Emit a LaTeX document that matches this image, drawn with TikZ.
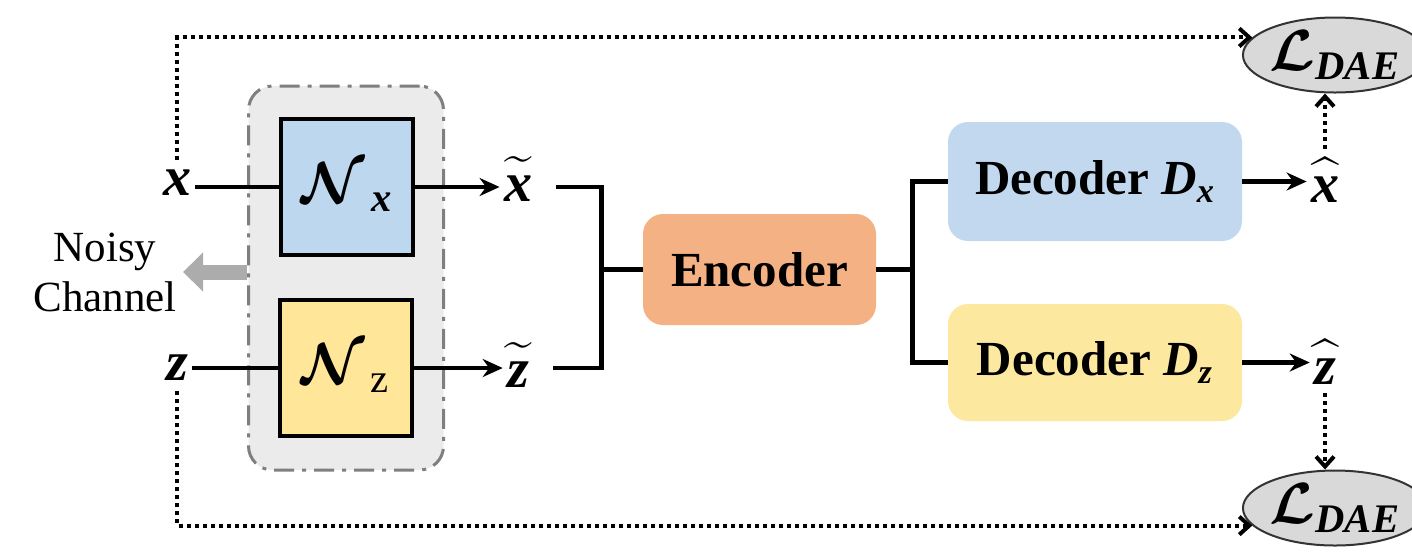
\RequirePackage{fix-cm}
\documentclass[tikz,border=0pt]{standalone}
\usepackage{amsmath}
\usepackage{bm}
\usepackage{fontspec}
\setmainfont{Liberation Serif}
\usetikzlibrary{arrows.meta,shapes.geometric}
\definecolor{nxblue}{HTML}{BDD7EE}
\definecolor{dxblue}{HTML}{C2D8EE}
\definecolor{nzyellow}{HTML}{FFE699}
\definecolor{dzyellow}{HTML}{FDE8A0}
\definecolor{encorange}{HTML}{F4B183}
\definecolor{ncgray}{HTML}{EBEBEB}
\definecolor{ncborder}{HTML}{7F7F7F}
\definecolor{lossfill}{HTML}{D9D9D9}
\newcommand{\bix}{\text{\bfseries\itshape x}}
\newcommand{\biz}{\text{\bfseries\itshape z}}
\newcommand{\acctall}{\rule{0pt}{0.55em}}
\begin{document}
\begin{tikzpicture}[x=0.5pt,y=-0.5pt,
  line/.style={line width=2.2pt},
  arr/.style={line width=2.2pt,-{Stealth[length=10pt,width=9pt]}},
  dotarr/.style={line width=2pt,dash pattern=on 2pt off 2pt,-{Straight Barb[length=5pt,width=9pt,line width=2pt]}},
  nbox/.style={draw=black,line width=2pt,minimum width=66pt,minimum height=68pt,inner sep=0pt},
  block/.style={rounded corners=10pt,inner sep=0pt,font=\fontsize{24.5}{28}\selectfont\bfseries},
  var/.style={inner sep=2pt,font=\fontsize{28}{30}\selectfont},
  lossell/.style={ellipse,draw=black!80,line width=1pt,fill=lossfill,minimum width=70pt,minimum height=37.5pt,inner sep=0pt,font=\fontsize{29}{30}\selectfont},
  fatarrow/.style={line width=7.5pt,draw=gray!65,-{Triangle[length=10pt,width=19pt]}}
  ]
\useasboundingbox (0,0) rectangle (1412,559);

% noisy channel box
\node[draw=ncborder,fill=ncgray,line width=1.5pt,rounded corners=12pt,
      dash pattern=on 10pt off 4pt on 2pt off 4pt,
      minimum width=97.5pt,minimum height=192pt,inner sep=0pt] (nc) at (346,278) {};

\node[nbox,fill=nxblue,font=\fontsize{29}{30}\selectfont] (nx) at (347,187)
  {$\boldsymbol{\mathcal{N}}_{\,\bix}$};
\node[nbox,fill=nzyellow,font=\fontsize{29}{30}\selectfont] (nz) at (345.5,368)
  {$\boldsymbol{\mathcal{N}}_{\,\text{z}}$};

\node[inner sep=2pt,font=\fontsize{21.5}{25}\selectfont,align=center] (noisy) at (105,272) {Noisy\\Channel};
\draw[fatarrow] (nc.west |- noisy.east) -- ([xshift=1pt]noisy.east);

\node[var] (x) at (177,183) {$\bix$};
\node[var] (z) at (177,368) {$\biz$};
\node[var] (xt) at (518,179) {$\widetilde{\acctall\bix}$};
\node[var] (zt) at (518,365) {$\widetilde{\acctall\biz}$};
\node[var] (xh) at (1325,180) {$\widehat{\acctall\bix}$};
\node[var] (zh) at (1325,362) {$\widehat{\acctall\biz}$};

\node[block,fill=encorange,minimum width=116.5pt,minimum height=55.5pt] (enc) at (759.5,269.5) {Encoder};
\node[block,fill=dxblue,minimum width=147pt,minimum height=59.5pt] (dx) at (1095,181.5)
  {Decoder \textit{D}\textsubscript{\textit{x}}};
\node[block,fill=dzyellow,minimum width=147pt,minimum height=58.5pt] (dz) at (1095,362.5)
  {Decoder \textit{D}\textsubscript{\textit{z}}};

\node[lossell] (L1) at (1335,55) {$\boldsymbol{\mathcal{L}}_{\textbf{\textit{DAE}}}$};
\node[lossell] (L2) at (1335,508) {$\boldsymbol{\mathcal{L}}_{\textbf{\textit{DAE}}}$};

% connectors
\draw[line] (x.east |- nx.west) -- (nx.west);
\draw[line] (z.east |- nz.west) -- (nz.west);
\draw[arr] (nx.east) -- (nx.east -| xt.west);
\draw[arr] (nz.east) -- (nz.east -| zt.west);

\coordinate (bj) at ([xshift=-20.5pt]enc.west);
\draw[line] ([xshift=10pt]xt.east |- nx.east) -| (bj) |- ([xshift=10pt]zt.east |- nz.east);
\draw[line] (bj) -- (enc.west);

\coordinate (dj) at ([xshift=18pt]enc.east);
\draw[line] (enc.east) -- (dj);
\draw[line] (dx.west) -| (dj) |- (dz.west);

\draw[arr] (dx.east) -- (dx.east -| xh.west);
\draw[arr] (dz.east) -- (dz.east -| zh.west);

\draw[dotarr] ([yshift=3pt]x.north) |- (L1.168);
\draw[dotarr] ([yshift=2pt]xh.north) -- (xh.north |- L1.south);
\draw[dotarr] ([yshift=-3pt]z.south) |- (L2.192);
\draw[dotarr] ([yshift=-2pt]zh.south) -- (zh.south |- L2.north);
\end{tikzpicture}
\end{document}
